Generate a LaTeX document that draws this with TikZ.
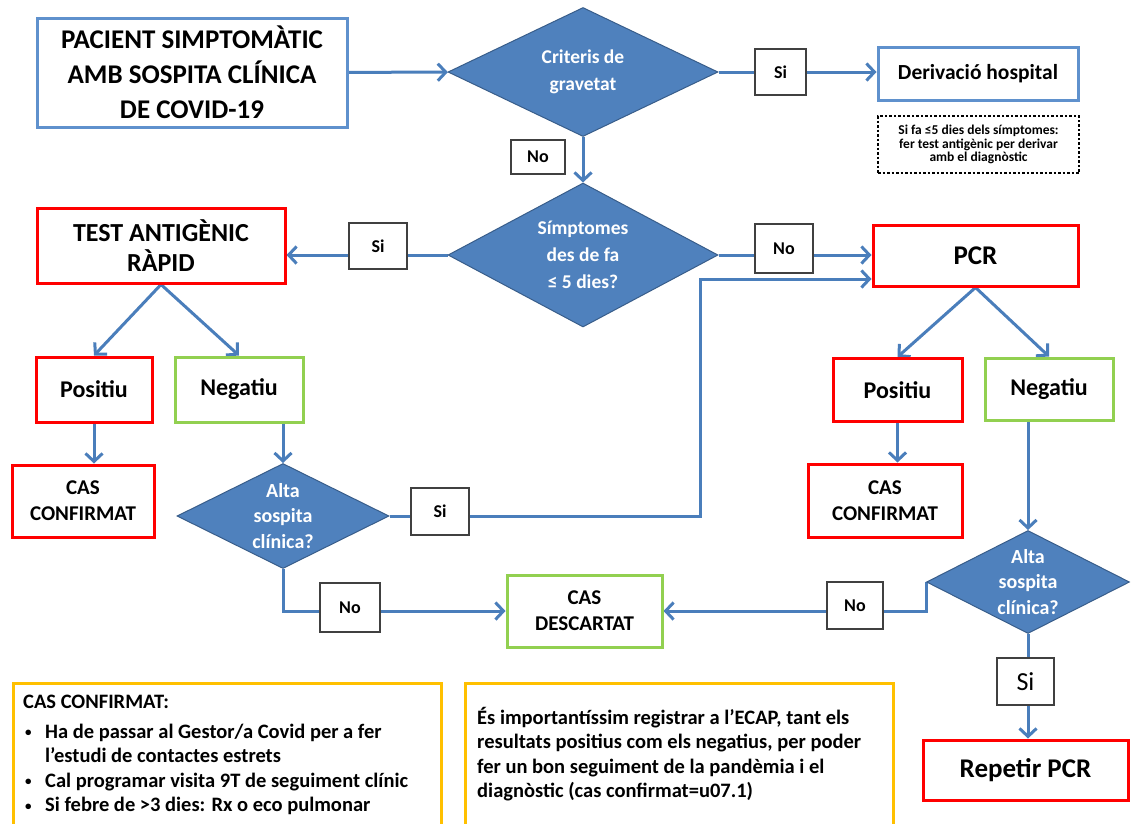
\documentclass[tikz,border=0pt]{standalone}
\usepackage{fontspec}
\setmainfont{Carlito}
\usepackage{tikz}
\usetikzlibrary{shapes.geometric,arrows.meta,positioning,calc}
\pgfdeclarelayer{background}
\pgfsetlayers{background,main}
\definecolor{diablue}{RGB}{79,129,189}
\definecolor{diaedge}{RGB}{56,93,138}
\definecolor{lineblue}{RGB}{74,126,187}
\definecolor{boxblue}{RGB}{95,145,205}
\definecolor{boxred}{RGB}{255,0,0}
\definecolor{boxgreen}{RGB}{146,208,80}
\definecolor{boxyellow}{RGB}{255,192,0}
\tikzstyle{mybox} = [draw, rectangle, line width=3pt, fill=white, align=center, inner sep=0pt]
\tikzstyle{bluebox} = [mybox, draw=boxblue]
\tikzstyle{redbox} = [mybox, draw=boxred]
\tikzstyle{greenbox} = [mybox, draw=boxgreen]
\tikzstyle{decision} = [diamond, draw=diaedge, line width=1pt, fill=diablue, inner sep=0pt]
\tikzstyle{decisiontext} = [text=white, align=center, inner sep=0pt, font=\bfseries\fontsize{19.5}{27}\selectfont]
\tikzstyle{answer} = [draw=black!75, line width=1.3pt, fill=white, inner sep=0pt, font=\bfseries\fontsize{18}{20}\selectfont]
\tikzstyle{flow} = [draw=lineblue, line width=3pt, -{Straight Barb[length=8pt,width=17pt]}]
\tikzstyle{notebox} = [draw=boxyellow, line width=3pt, rectangle, anchor=north west]
\tikzstyle{notetext} = [anchor=north west, align=left, inner sep=0pt, font=\bfseries\fontsize{20.5}{24.5}\selectfont]
\newcommand{\notebullet}{\makebox[22pt][l]{\hspace{2pt}\raisebox{1.5pt}{\fontsize{13}{13}\selectfont\textbullet}}}

\begin{document}
\begin{tikzpicture}[x=1pt,y=-1pt]
    % Page
    \path [use as bounding box] (0,0) rectangle (1131,823);

    % First row
    \node [bluebox, minimum width=310pt, minimum height=109pt, font=\bfseries\fontsize{27}{35}\selectfont]
    (Pacient) at (192,72.5) {PACIENT SIMPTOMÀTIC\\AMB SOSPITA CLÍNICA\\DE COVID-19};
    \node [decision, minimum width=270pt, minimum height=129pt,
    label={[decisiontext]center:{Criteris de\\gravetat}}] (Criteris) at (583,72) {};
    \node [bluebox, minimum width=200pt, minimum height=53pt, font=\bfseries\fontsize{21.5}{24}\selectfont]
    (Derivacio) at (978,73.5) {Derivació hospital};
    \node [draw=black, line width=2.5pt, dash pattern=on 2.5pt off 2pt, minimum width=201pt, minimum height=57pt,
    align=center, inner sep=0pt, font=\bfseries\fontsize{13.5}{13.5}\selectfont]
    (Nota Derivacio) at (978.5,144.5) {Si fa ≤5 dies dels símptomes:\\fer test antigènic per derivar\\amb el diagnòstic};

    % Second row
    \node [decision, minimum width=270pt, minimum height=144pt,
    label={[decisiontext]center:{Símptomes\\des de fa\\≤ 5 dies?}}] (Simptomes) at (583,255) {};
    \node [redbox, minimum width=248pt, minimum height=75pt, font=\bfseries\fontsize{26}{30}\selectfont]
    (Test) at (161,245.5) {TEST ANTIGÈNIC\\RÀPID};
    \node [redbox, minimum width=205pt, minimum height=61pt, font=\bfseries\fontsize{27}{30}\selectfont]
    (PCR) at (975.5,255.5) {PCR};

    % Test branch
    \node [redbox, minimum width=116pt, minimum height=65pt, font=\bfseries\fontsize{24}{28}\selectfont]
    (Test Positiu) at (94,389.5) {Positiu};
    \node [greenbox, minimum width=128pt, minimum height=65pt, font=\bfseries\fontsize{24}{28}\selectfont]
    (Test Negatiu) at (239,389.5) {Negatiu};
    \node [redbox, minimum width=142pt, minimum height=72pt, font=\bfseries\fontsize{21}{26}\selectfont]
    (Confirmat Test) at (83,501) {CAS\\CONFIRMAT};
    \node [decision, minimum width=212pt, minimum height=105pt,
    label={[decisiontext, font=\bfseries\fontsize{20}{25.5}\selectfont]center:{Alta\\sospita\\clínica?}}]
    (Sospita Test) at (283,516) {};
    \node [greenbox, minimum width=155pt, minimum height=72pt, font=\bfseries\fontsize{21}{26}\selectfont]
    (Descartat) at (584.5,611) {CAS\\DESCARTAT};

    % PCR branch
    \node [redbox, minimum width=129pt, minimum height=63pt, font=\bfseries\fontsize{24}{28}\selectfont]
    (PCR Positiu) at (897.5,390) {Positiu};
    \node [greenbox, minimum width=128pt, minimum height=62pt, font=\bfseries\fontsize{24}{28}\selectfont]
    (PCR Negatiu) at (1049,389) {Negatiu};
    \node [redbox, minimum width=154pt, minimum height=73pt, font=\bfseries\fontsize{21}{26}\selectfont]
    (Confirmat PCR) at (885,500.5) {CAS\\CONFIRMAT};
    \node [decision, minimum width=203pt, minimum height=103pt,
    label={[decisiontext, font=\bfseries\fontsize{20}{25.5}\selectfont]center:{Alta\\sospita\\clínica?}}]
    (Sospita PCR) at (1028,582) {};
    \node [redbox, minimum width=205pt, minimum height=60pt, font=\bfseries\fontsize{27}{30}\selectfont]
    (Repetir) at (1025.5,770) {Repetir PCR};

    % Connectors
    \coordinate (Si Elbow) at (700,279);
    \begin{pgfonlayer}{background}
    \fill [white] (0,0) rectangle (1131,823);
    \draw [flow] (Pacient) -- (Criteris);
    \draw [flow] (Criteris.east) -- (Criteris.east -| Derivacio.west);
    \draw [flow] (Criteris.south) -- (Simptomes.north);
    \draw [flow] (Simptomes.west) -- (Simptomes.west -| Test.east);
    \draw [flow] (Simptomes.east) -- (Simptomes.east -| PCR.west);
    \draw [flow] (Test.south) -- (Test Positiu.north);
    \draw [flow] (Test.south) -- (Test Negatiu.north);
    \draw [flow] (Test Positiu.south) -- (Test Positiu.south |- Confirmat Test.north);
    \draw [flow] (Sospita Test.north |- Test Negatiu.south) -- (Sospita Test.north);
    \draw [flow] (Sospita Test.east) -| (Si Elbow) -- (Si Elbow -| PCR.west);
    \draw [flow] (Sospita Test.south) |- (Descartat.west);
    \draw [flow] (PCR.south) -- (PCR Positiu.north);
    \draw [flow] (PCR.south) -- (PCR Negatiu.north);
    \draw [flow] (PCR Positiu.south) -- (PCR Positiu.south |- Confirmat PCR.north);
    \draw [flow] (Sospita PCR.north |- PCR Negatiu.south) -- (Sospita PCR.north);
    \draw [flow] (Sospita PCR.west) |- (Descartat.east);
    \draw [flow] (Sospita PCR.south) -- (Sospita PCR.south |- Repetir.north);
    \end{pgfonlayer}

    % Answers on the connectors
    \node [answer, minimum width=51pt, minimum height=46pt] (Si Gravetat) at (780.5,72) {Si};
    \node [answer, minimum width=54pt, minimum height=34pt] (No Gravetat) at (538,157) {No};
    \node [answer, minimum width=58pt, minimum height=46pt] (Si Simptomes) at (378,246) {Si};
    \node [answer, minimum width=58pt, minimum height=49pt] (No Simptomes) at (784,248.5) {No};
    \node [answer, minimum width=58pt, minimum height=47pt] (Si Sospita Test) at (440,511.5) {Si};
    \node [answer, minimum width=60pt, minimum height=49pt] (No Sospita Test) at (350,607.5) {No};
    \node [answer, minimum width=56pt, minimum height=47pt] (No Sospita PCR) at (855,605.5) {No};
    \node [answer, minimum width=57pt, minimum height=47pt, font=\fontsize{26}{28}\selectfont]
    (Si Sospita PCR) at (1025.5,681.5) {Si};

    % Notes
    \node [notebox, minimum width=428pt, minimum height=150pt] (Nota Confirmat) at (12,682) {};
    \node [notetext] (Text Confirmat) at ([shift={(11,13)}]Nota Confirmat.north west)
    {CAS CONFIRMAT:\\[5pt]
     \notebullet Ha de passar al Gestor/a Covid per a fer\\
     \hspace*{22pt}l’estudi de contactes estrets\\
     \notebullet Cal programar visita 9T de seguiment clínic\\
     \notebullet Si febre de >3 dies: Rx o eco pulmonar};
    \node [notebox, minimum width=428pt, minimum height=150pt] (Nota ECAP) at (464,682) {};
    \node [notetext] (Text ECAP) at ([shift={(13,25)}]Nota ECAP.north west)
    {És importantíssim registrar a l’ECAP, tant els\\
     resultats positius com els negatius, per poder\\
     fer un bon seguiment de la pandèmia i el\\
     diagnòstic (cas confirmat=u07.1)};
\end{tikzpicture}
\end{document}
